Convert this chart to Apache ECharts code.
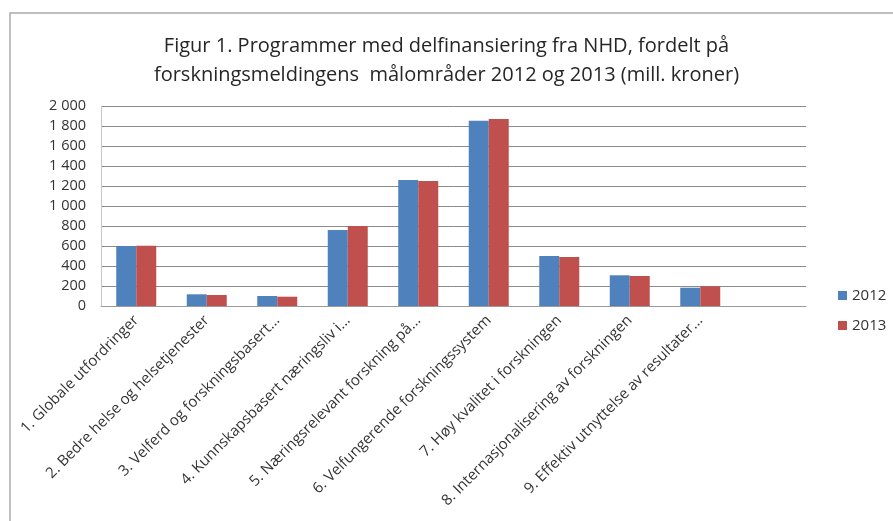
<!DOCTYPE html>
<html>
<head>
<meta charset="utf-8">
<script src="https://cdn.jsdelivr.net/npm/echarts@6/dist/echarts.min.js"></script>
<style>
  html, body { margin: 0; padding: 0; background: #fff; }
  #chart { width: 893px; height: 521px; }
</style>
</head>
<body>
<div id="chart"></div>
<script>
// values in mill. kroner
const categories = [
  '1. Globale utfordringer',
  '2. Bedre helse og helsetjenester',
  '3. Velferd og forskningsbasert...',
  '4. Kunnskapsbasert næringsliv i...',
  '5. Næringsrelevant forskning på...',
  '6. Velfungerende forskningssystem',
  '7. Høy kvalitet i forskningen',
  '8. Internasjonalisering av forskningen',
  '9. Effektiv utnyttelse av resultater...',
  ''
];
const values2012 = [600, 117, 100, 760, 1260, 1853, 500, 307, 183, null];
const values2013 = [603, 110, 93, 800, 1250, 1870, 490, 300, 197, null];
const seriesNames = ['2012', '2013'];

const chart = echarts.init(document.getElementById('chart'));

function spaceThousands(v) {
    return String(v).replace(/\B(?=(\d{3})+(?!\d))/g, ' ');
}

const option = {
    backgroundColor: '#fff',
    textStyle: { fontFamily: 'Open Sans' },
    title: {
        text: 'Figur 1. Programmer med delfinansiering fra NHD, fordelt på\nforskningsmeldingens  målområder 2012 og 2013 (mill. kroner)',
        left: 'center',
        top: 27,
        textStyle: {
            fontFamily: 'Open Sans',
            fontWeight: 'normal',
            fontSize: 20,
            lineHeight: 29,
            color: '#262626'
        }
    },
    graphic: [{
        type: 'rect',
        shape: { x: 10, y: 13, width: 900, height: 520 },
        style: { fill: 'none', stroke: '#aaaaaa', lineWidth: 1.5 },
        silent: true
    }],
    legend: {
        orient: 'vertical',
        left: 833,
        top: 283,
        itemWidth: 9,
        itemHeight: 9,
        itemGap: 15,
        icon: 'rect',
        textStyle: { fontSize: 15, color: '#333', fontFamily: 'Open Sans' },
        data: seriesNames
    },
    grid: {
        left: 101,
        right: 87,
        top: 106,
        bottom: 215,
        containLabel: false
    },
    xAxis: {
        type: 'category',
        data: categories,
        axisLine: { lineStyle: { color: '#9a9a9a', width: 1 } },
        axisTick: { show: false },
        axisLabel: {
            rotate: 45,
            interval: 0,
            margin: 12,
            fontSize: 15,
            color: '#333',
            fontFamily: 'Open Sans'
        }
    },
    yAxis: {
        type: 'value',
        min: 0,
        max: 2000,
        interval: 200,
        axisLine: { show: true, lineStyle: { color: '#c8c8c8', width: 1 } },
        axisTick: { show: false },
        splitLine: { lineStyle: { color: '#8c8c8c', width: 1 } },
        axisLabel: {
            margin: 15,
            fontSize: 14.5,
            color: '#333',
            fontFamily: 'Open Sans',
            formatter: spaceThousands
        }
    },
    series: [{
        name: seriesNames[0],
        type: 'bar',
        barWidth: 20,
        barGap: '0%',
        itemStyle: { color: '#4f81bd' },
        data: values2012
    }, {
        name: seriesNames[1],
        type: 'bar',
        barWidth: 20,
        barGap: '0%',
        itemStyle: { color: '#c0504d' },
        data: values2013
    }]
};

chart.setOption(option);
window.addEventListener('resize', function () {
    chart.resize();
});
</script>
</body>
</html>
